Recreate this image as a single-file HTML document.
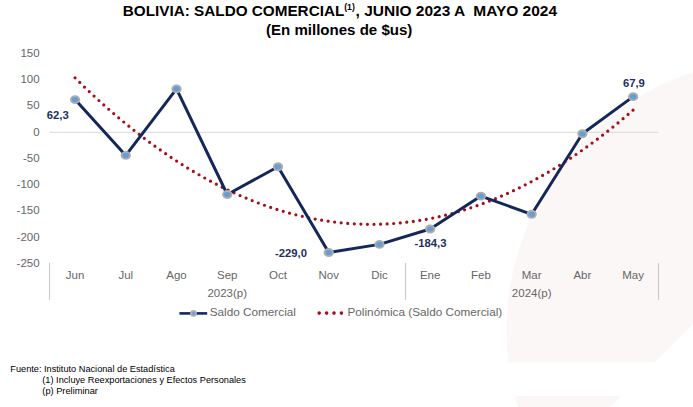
<!DOCTYPE html>
<html><head><meta charset="utf-8"><style>
html,body{margin:0;padding:0;background:#fff;}
body{width:693px;height:407px;overflow:hidden;position:relative;font-family:"Liberation Sans",sans-serif;}
svg{position:absolute;left:0;top:0;}
text{font-family:"Liberation Sans",sans-serif;white-space:pre;}
</style></head><body>
<svg width="693" height="407" viewBox="0 0 693 407">
<rect width="693" height="407" fill="#fff"/>
<!-- watermark -->
<defs><clipPath id="wm"><path d="M0,0 H693 V362.6 H0 Z M0,395.9 H693 V407 H0 Z"/></clipPath></defs>
<g clip-path="url(#wm)">
<circle cx="778.3" cy="330" r="271.7" fill="#fcf7f7" clip-path="url(#wm2)"/></g>
<defs><clipPath id="wm2"><path d="M0,0 L1017,0 L0,1017 Z"/></clipPath></defs>
<!-- title -->
<g font-weight="bold" fill="#000">
<text x="122.8" y="15.7" font-size="15.4" textLength="221.5" lengthAdjust="spacingAndGlyphs">BOLIVIA: SALDO COMERCIAL</text>
<text x="344.2" y="10.4" font-size="9.6" textLength="10.6" lengthAdjust="spacingAndGlyphs">(1)</text>
<text x="355.6" y="15.7" font-size="15.4" textLength="201.5" lengthAdjust="spacingAndGlyphs">, JUNIO 2023 A  MAYO 2024</text>
<text x="339.2" y="34.6" font-size="15.05" text-anchor="middle">(En millones de $us)</text>
</g>
<!-- axis labels -->
<g font-size="11.5" fill="#666666">
<text x="39.6" y="56.85" text-anchor="end">150</text>
<text x="39.6" y="83.10" text-anchor="end">100</text>
<text x="39.6" y="109.35" text-anchor="end">50</text>
<text x="39.6" y="135.60" text-anchor="end">0</text>
<text x="39.6" y="161.85" text-anchor="end">-50</text>
<text x="39.6" y="188.10" text-anchor="end">-100</text>
<text x="39.6" y="214.35" text-anchor="end">-150</text>
<text x="39.6" y="240.60" text-anchor="end">-200</text>
<text x="39.6" y="266.85" text-anchor="end">-250</text>
<text x="75.07" y="279.2" text-anchor="middle">Jun</text>
<text x="125.80" y="279.2" text-anchor="middle">Jul</text>
<text x="176.53" y="279.2" text-anchor="middle">Ago</text>
<text x="227.27" y="279.2" text-anchor="middle">Sep</text>
<text x="278.00" y="279.2" text-anchor="middle">Oct</text>
<text x="328.73" y="279.2" text-anchor="middle">Nov</text>
<text x="379.47" y="279.2" text-anchor="middle">Dic</text>
<text x="430.20" y="279.2" text-anchor="middle">Ene</text>
<text x="480.93" y="279.2" text-anchor="middle">Feb</text>
<text x="531.67" y="279.2" text-anchor="middle">Mar</text>
<text x="582.40" y="279.2" text-anchor="middle">Abr</text>
<text x="633.13" y="279.2" text-anchor="middle">May</text>
<text x="227.27" y="297" text-anchor="middle">2023(p)</text>
<text x="531.67" y="297" text-anchor="middle">2024(p)</text>
</g>
<line x1="49.7" y1="132.3" x2="658.5" y2="132.3" stroke="#d9d9d9" stroke-width="1"/>
<g stroke="#c8c8c8" stroke-width="1">
<line x1="49.5" y1="263" x2="49.5" y2="300"/>
<line x1="405.5" y1="263" x2="405.5" y2="300"/>
<line x1="658.5" y1="263" x2="658.5" y2="300"/>
</g>
<!-- poly -->
<polyline points="75.07,77.87 77.87,80.63 80.68,83.36 83.48,86.06 86.28,88.74 89.09,91.40 91.89,94.03 94.70,96.63 97.50,99.20 100.31,101.75 103.11,104.27 105.91,106.77 108.72,109.24 111.52,111.68 114.33,114.10 117.13,116.49 119.94,118.86 122.74,121.20 125.55,123.51 128.35,125.80 131.15,128.06 133.96,130.29 136.76,132.50 139.57,134.68 142.37,136.84 145.18,138.96 147.98,141.07 150.78,143.14 153.59,145.19 156.39,147.22 159.20,149.22 162.00,151.19 164.81,153.13 167.61,155.05 170.41,156.95 173.22,158.81 176.02,160.65 178.83,162.47 181.63,164.26 184.44,166.02 187.24,167.75 190.05,169.46 192.85,171.15 195.65,172.80 198.46,174.43 201.26,176.04 204.07,177.62 206.87,179.17 209.68,180.69 212.48,182.19 215.28,183.67 218.09,185.11 220.89,186.54 223.70,187.93 226.50,189.30 229.31,190.64 232.11,191.96 234.91,193.25 237.72,194.51 240.52,195.75 243.33,196.96 246.13,198.14 248.94,199.30 251.74,200.43 254.55,201.54 257.35,202.62 260.15,203.67 262.96,204.70 265.76,205.70 268.57,206.68 271.37,207.63 274.18,208.55 276.98,209.44 279.78,210.31 282.59,211.16 285.39,211.98 288.20,212.77 291.00,213.53 293.81,214.27 296.61,214.98 299.42,215.67 302.22,216.33 305.02,216.96 307.83,217.57 310.63,218.15 313.44,218.71 316.24,219.24 319.05,219.74 321.85,220.22 324.65,220.67 327.46,221.09 330.26,221.49 333.07,221.86 335.87,222.21 338.68,222.53 341.48,222.82 344.28,223.08 347.09,223.33 349.89,223.54 352.70,223.73 355.50,223.89 358.31,224.02 361.11,224.13 363.92,224.22 366.72,224.27 369.52,224.30 372.33,224.31 375.13,224.29 377.94,224.24 380.74,224.16 383.55,224.06 386.35,223.94 389.15,223.78 391.96,223.61 394.76,223.40 397.57,223.17 400.37,222.91 403.18,222.63 405.98,222.32 408.78,221.98 411.59,221.62 414.39,221.23 417.20,220.81 420.00,220.37 422.81,219.90 425.61,219.41 428.42,218.89 431.22,218.34 434.02,217.77 436.83,217.17 439.63,216.54 442.44,215.89 445.24,215.22 448.05,214.51 450.85,213.78 453.65,213.03 456.46,212.24 459.26,211.43 462.07,210.60 464.87,209.74 467.68,208.85 470.48,207.94 473.29,207.00 476.09,206.03 478.89,205.04 481.70,204.02 484.50,202.97 487.31,201.90 490.11,200.81 492.92,199.68 495.72,198.53 498.52,197.36 501.33,196.15 504.13,194.93 506.94,193.67 509.74,192.39 512.55,191.08 515.35,189.75 518.15,188.39 520.96,187.00 523.76,185.59 526.57,184.15 529.37,182.69 532.18,181.20 534.98,179.68 537.79,178.14 540.59,176.57 543.39,174.97 546.20,173.35 549.00,171.70 551.81,170.03 554.61,168.33 557.42,166.60 560.22,164.85 563.02,163.07 565.83,161.26 568.63,159.43 571.44,157.57 574.24,155.69 577.05,153.78 579.85,151.84 582.65,149.88 585.46,147.89 588.26,145.87 591.07,143.83 593.87,141.76 596.68,139.67 599.48,137.55 602.29,135.40 605.09,133.23 607.89,131.03 610.70,128.81 613.50,126.55 616.31,124.28 619.11,121.97 621.92,119.64 624.72,117.29 627.52,114.90 630.33,112.49 633.13,110.06" fill="none" stroke="#a50d18" stroke-width="3.2" stroke-linecap="round" stroke-dasharray="0 6.5733"/>
<!-- series -->
<polyline points="75.07,99.59 125.80,155.40 176.53,88.88 227.27,194.51 278.00,166.79 328.73,252.53 379.47,244.39 430.20,229.06 480.93,196.09 531.67,214.31 582.40,133.72 633.13,96.65" fill="none" stroke="#13275a" stroke-width="3" stroke-linejoin="round"/>
<ellipse cx="75.07" cy="99.59" rx="4.2" ry="3.5" fill="#659dd6" stroke="#adadad" stroke-width="1.9"/>
<ellipse cx="125.80" cy="155.40" rx="4.2" ry="3.5" fill="#659dd6" stroke="#adadad" stroke-width="1.9"/>
<ellipse cx="176.53" cy="88.88" rx="4.2" ry="3.5" fill="#659dd6" stroke="#adadad" stroke-width="1.9"/>
<ellipse cx="227.27" cy="194.51" rx="4.2" ry="3.5" fill="#659dd6" stroke="#adadad" stroke-width="1.9"/>
<ellipse cx="278.00" cy="166.79" rx="4.2" ry="3.5" fill="#659dd6" stroke="#adadad" stroke-width="1.9"/>
<ellipse cx="328.73" cy="252.53" rx="4.2" ry="3.5" fill="#659dd6" stroke="#adadad" stroke-width="1.9"/>
<ellipse cx="379.47" cy="244.39" rx="4.2" ry="3.5" fill="#659dd6" stroke="#adadad" stroke-width="1.9"/>
<ellipse cx="430.20" cy="229.06" rx="4.2" ry="3.5" fill="#659dd6" stroke="#adadad" stroke-width="1.9"/>
<ellipse cx="480.93" cy="196.09" rx="4.2" ry="3.5" fill="#659dd6" stroke="#adadad" stroke-width="1.9"/>
<ellipse cx="531.67" cy="214.31" rx="4.2" ry="3.5" fill="#659dd6" stroke="#adadad" stroke-width="1.9"/>
<ellipse cx="582.40" cy="133.72" rx="4.2" ry="3.5" fill="#659dd6" stroke="#adadad" stroke-width="1.9"/>
<ellipse cx="633.13" cy="96.65" rx="4.2" ry="3.5" fill="#659dd6" stroke="#adadad" stroke-width="1.9"/>
<!-- data labels -->
<g font-size="11.3" font-weight="bold" fill="#1f3060">
<text x="46.7" y="119.2">62,3</text>
<text x="274.9" y="256.9">-229,0</text>
<text x="414.5" y="247.4">-184,3</text>
<text x="622.9" y="87.3">67,9</text>
</g>
<!-- legend -->
<line x1="179.4" y1="313.4" x2="207.2" y2="313.4" stroke="#13275a" stroke-width="2.6"/>
<circle cx="193.5" cy="313.4" r="2.5" fill="#6f9fd8" stroke="#b0b0b0" stroke-width="1.8"/>
<g font-size="11.75" fill="#666666">
<text x="209.7" y="315.8">Saldo Comercial</text>
<text x="347.5" y="315.8">Polinómica (Saldo Comercial)</text>
</g>
<g fill="#a50d18">
<circle cx="319.2" cy="313.1" r="1.8"/><circle cx="326.6" cy="313.1" r="1.8"/><circle cx="334" cy="313.1" r="1.8"/><circle cx="341.4" cy="313.1" r="1.8"/>
</g>
<!-- footer -->
<g font-size="9" fill="#000">
<text x="10.3" y="371.9" textLength="164.5" lengthAdjust="spacingAndGlyphs">Fuente: Instituto Nacional de Estadística</text>
<text x="42.3" y="382.8" textLength="203.5" lengthAdjust="spacingAndGlyphs">(1) Incluye Reexportaciones y Efectos Personales</text>
<text x="42.3" y="394.1" textLength="55.6" lengthAdjust="spacingAndGlyphs">(p) Preliminar</text>
</g>
</svg>
</body></html>
